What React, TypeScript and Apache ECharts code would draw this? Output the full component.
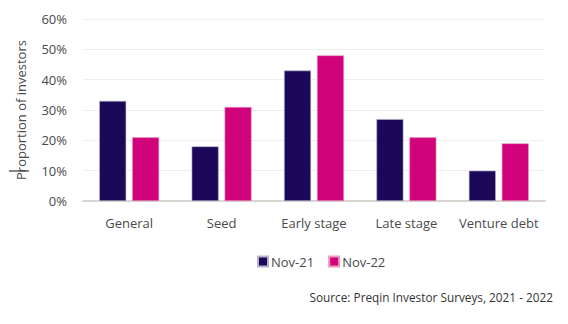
import React, { useEffect, useRef } from "react";
import * as echarts from "echarts";

const categories = ["General", "Seed", "Early stage", "Late stage", "Venture debt"];
const nov21 = [33, 18, 43, 27, 10];
const nov22 = [21, 31, 48, 21, 19];
const seriesNames = ["Nov-21", "Nov-22"];
const yTicks = { min: 0, max: 60, interval: 10 };

const FONT = "Open Sans";
const TXT = "#4a4a4a";

export default function App() {
  const ref = useRef<HTMLDivElement>(null);
  useEffect(() => {
    document.body.style.margin = "0";
    const chart = echarts.init(ref.current!, null, { renderer: "svg" });
    chart.setOption({
      animation: false,
      textStyle: { fontFamily: FONT },
      grid: { left: 83, right: 23, top: 19, bottom: 123 },
      legend: {
        data: seriesNames,
        top: 250,
        left: 252,
        itemWidth: 10,
        itemHeight: 10,
        itemGap: 14,
        icon: "rect",
        textStyle: { fontFamily: FONT, fontSize: 13, color: TXT, padding: [0, 0, 0, -2] },
      },
      xAxis: {
        type: "category",
        data: categories,
        axisTick: { show: false },
        axisLine: { lineStyle: { color: "#D9D6D2", width: 2 } },
        axisLabel: { interval: 0, fontFamily: FONT, fontSize: 13, color: TXT, margin: 15 },
      },
      yAxis: {
        type: "value",
        min: yTicks.min,
        max: yTicks.max,
        interval: yTicks.interval,
        name: "Proportion of investors",
        nameLocation: "middle",
        nameGap: 56,
        nameTextStyle: { fontFamily: FONT, fontSize: 13, color: TXT },
        axisLabel: { formatter: "{value}%", fontFamily: FONT, fontSize: 13, color: TXT, margin: 16 },
        splitLine: { lineStyle: { color: "#EFEFEF", width: 1 } },
        axisLine: { show: false },
        axisTick: { show: false },
      },
      series: [
        {
          name: seriesNames[0],
          type: "bar",
          data: nov21,
          barWidth: 27,
          barGap: "22%",
          itemStyle: { color: "#1B0858", borderColor: "#B8B3CC", borderWidth: 0.6 },
        },
        {
          name: seriesNames[1],
          type: "bar",
          data: nov22,
          barWidth: 27,
          itemStyle: { color: "#D0037A", borderColor: "#E99ABF", borderWidth: 0.6 },
        },
      ],
      graphic: [
        {
          type: "text",
          right: 15,
          top: 291,
          style: {
            text: "Source: Preqin Investor Surveys, 2021 - 2022",
            fontFamily: FONT,
            fontSize: 11.8,
            fill: "#333333",
          },
        },
        {
          type: "line",
          shape: { x1: 9, y1: 171, x2: 29, y2: 171 },
          style: { stroke: "#111", lineWidth: 1 },
        },
      ],
    });
    return () => chart.dispose();
  }, []);
  return <div ref={ref} style={{ width: 568, height: 324 }} />;
}
